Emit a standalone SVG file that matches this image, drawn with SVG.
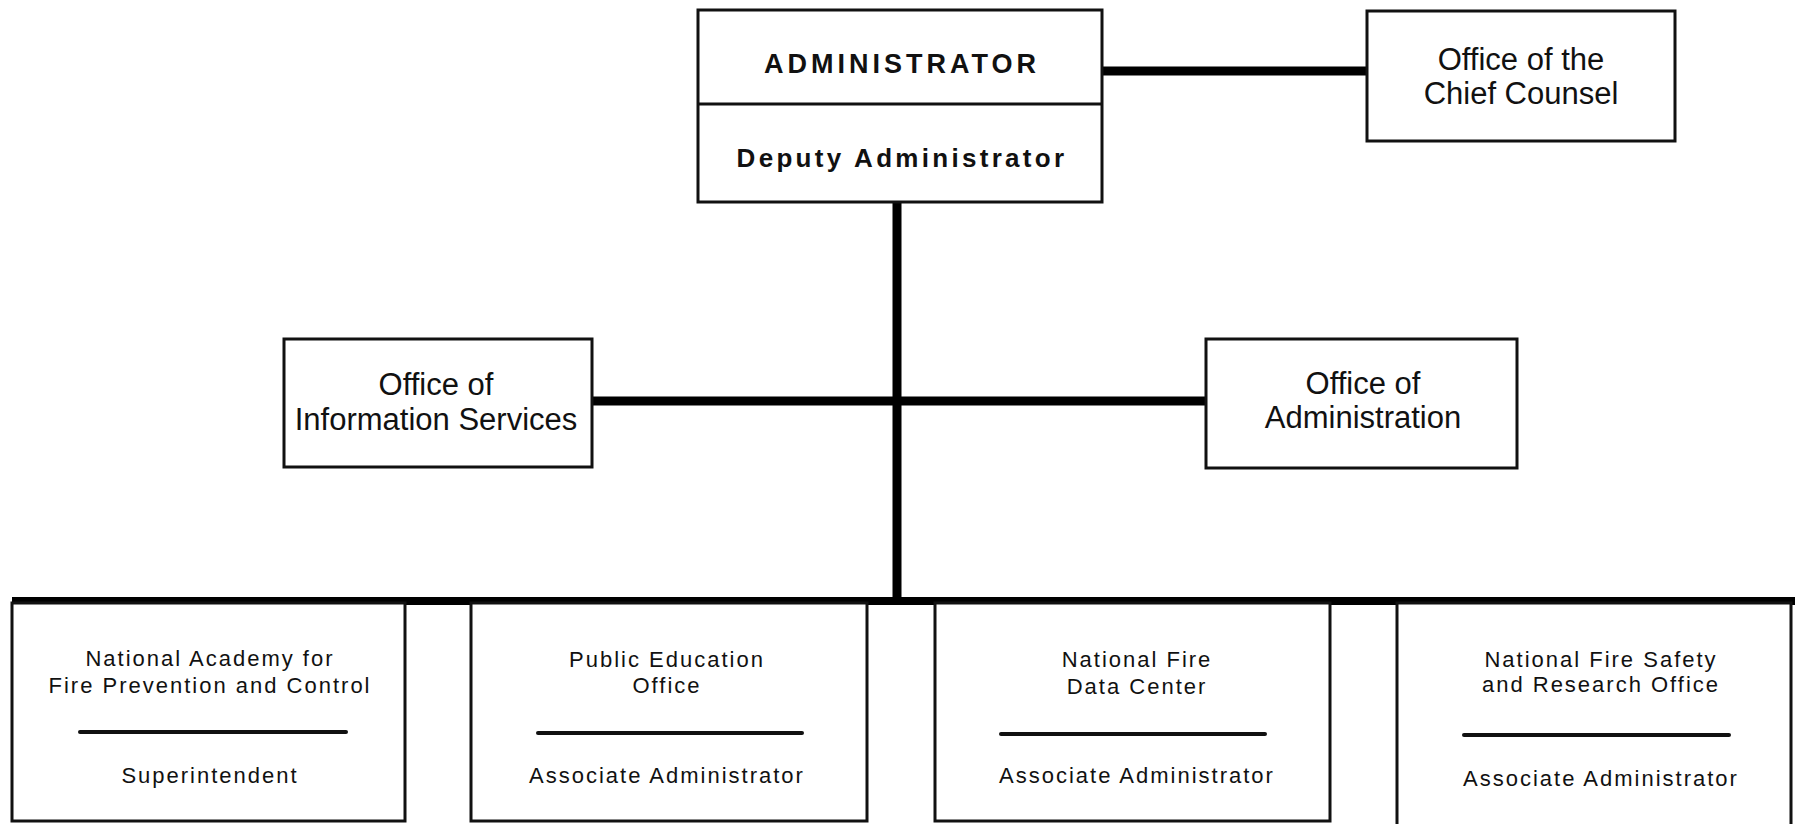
<svg xmlns="http://www.w3.org/2000/svg" width="1797" height="824" viewBox="0 0 1797 824">
<style>
.box{fill:#fff;stroke:#111;stroke-width:3}
.conn{stroke:#000;fill:none;stroke-linecap:butt}
.t{font-family:"Liberation Sans",Arial,sans-serif;fill:#111;text-anchor:middle}
.big{font-size:31px}
.hd{font-size:27px;font-weight:bold;letter-spacing:4px}
.sub{font-size:26px;font-weight:bold;letter-spacing:3.3px}
.sm{font-size:22px;letter-spacing:2px}
.rule{stroke:#111;stroke-width:4;stroke-linecap:round}
</style>
<rect width="1797" height="824" fill="#fff"/>
<g id="connectors">
<line class="conn" x1="1103" y1="71" x2="1367" y2="71" stroke-width="9"/>
<line class="conn" x1="897" y1="202" x2="897" y2="601" stroke-width="9"/>
<line class="conn" x1="592" y1="401" x2="1206" y2="401" stroke-width="9"/>
<line class="conn" x1="12" y1="601" x2="1795" y2="601" stroke-width="8"/>
</g>
<g id="administrator">
<rect class="box" x="698" y="10" width="404" height="192"/>
<line x1="698" y1="104" x2="1102" y2="104" stroke="#111" stroke-width="3"/>
<text class="t hd" x="902" y="73">ADMINISTRATOR</text>
<text class="t sub" x="902" y="167">Deputy Administrator</text>
</g>
<g id="chief-counsel">
<rect class="box" x="1367" y="11" width="308" height="130"/>
<text class="t big" x="1521" y="70">Office of the</text>
<text class="t big" x="1521" y="104">Chief Counsel</text>
</g>
<g id="information-services">
<rect class="box" x="284" y="339" width="308" height="128"/>
<text class="t big" x="436" y="395">Office of</text>
<text class="t big" x="436" y="430">Information Services</text>
</g>
<g id="office-administration">
<rect class="box" x="1206" y="339" width="311" height="129"/>
<text class="t big" x="1363" y="394">Office of</text>
<text class="t big" x="1363" y="428">Administration</text>
</g>
<g id="national-academy">
<rect class="box" x="12" y="603" width="393" height="218"/>
<text class="t sm" x="210" y="666">National Academy for</text>
<text class="t sm" x="210" y="693">Fire Prevention and Control</text>
<line class="rule" x1="80" y1="732" x2="346" y2="732"/>
<text class="t sm" x="210" y="783">Superintendent</text>
</g>
<g id="public-education">
<rect class="box" x="471" y="603" width="396" height="218"/>
<text class="t sm" x="667" y="667">Public Education</text>
<text class="t sm" x="667" y="693">Office</text>
<line class="rule" x1="538" y1="733" x2="802" y2="733"/>
<text class="t sm" x="667" y="783">Associate Administrator</text>
</g>
<g id="fire-data-center">
<rect class="box" x="935" y="603" width="395" height="218"/>
<text class="t sm" x="1137" y="667">National Fire</text>
<text class="t sm" x="1137" y="694">Data Center</text>
<line class="rule" x1="1001" y1="734" x2="1265" y2="734"/>
<text class="t sm" x="1137" y="783">Associate Administrator</text>
</g>
<g id="fire-safety-research">
<rect class="box" x="1397" y="603" width="394" height="230"/>
<text class="t sm" x="1601" y="667">National Fire Safety</text>
<text class="t sm" x="1601" y="692">and Research Office</text>
<line class="rule" x1="1464" y1="735" x2="1729" y2="735"/>
<text class="t sm" x="1601" y="786">Associate Administrator</text>
</g>
</svg>
